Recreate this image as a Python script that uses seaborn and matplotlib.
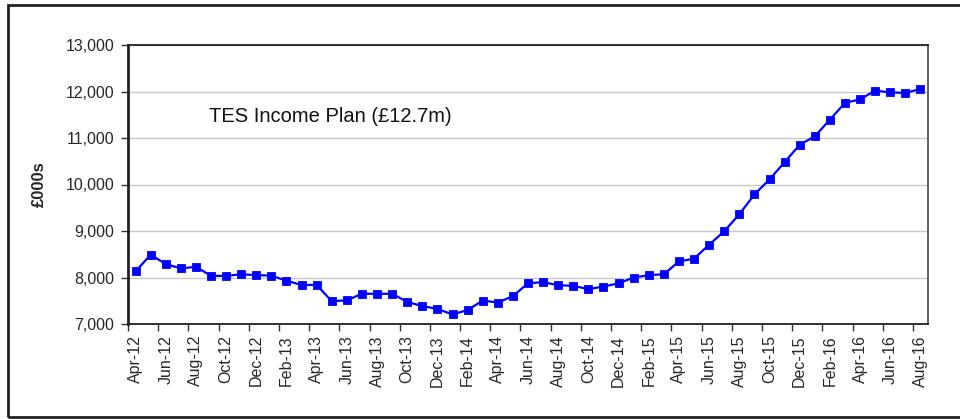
import matplotlib
matplotlib.use("Agg")
import matplotlib.pyplot as plt
from matplotlib.patches import Rectangle
from matplotlib.ticker import FixedLocator, FuncFormatter
import seaborn as sns
import pandas as pd

# Monthly income, Apr-12 .. Aug-16 (£000s)
months = pd.date_range("2012-04-01", "2016-08-01", freq="MS")
income_2012 = [8130, 8490, 8290, 8195, 8230, 8035, 8035, 8070, 8050]
income_2013 = [8040, 7930, 7840, 7840, 7490, 7510, 7650, 7650, 7650, 7475, 7385, 7325]
income_2014 = [7205, 7300, 7505, 7460, 7600, 7875, 7900, 7835, 7820, 7750, 7805, 7875]
income_2015 = [8000, 8050, 8070, 8345, 8405, 8705, 8995, 9360, 9785, 10110, 10480, 10855]
income_2016 = [11035, 11395, 11755, 11830, 12020, 11980, 11970, 12055]
income = income_2012 + income_2013 + income_2014 + income_2015 + income_2016

month_labels = [m.strftime("%b-%y") for m in months]
df = pd.DataFrame({"pos": range(len(months)), "income": income, "month": month_labels})

sns.set_theme(style="white")
plt.rcParams["font.family"] = ["Liberation Sans", "DejaVu Sans"]

fig = plt.figure(figsize=(9.6, 4.19), dpi=100)
ax = fig.add_axes([128 / 960, 95 / 419, 800 / 960, 279 / 419])

sns.lineplot(data=df, x="pos", y="income", ax=ax, color="#0000ff", linewidth=1.6,
             marker="s", markersize=6.2, markeredgecolor="#0000ff", markeredgewidth=0.6)

ax.set_xlim(-0.5, len(months) - 0.5)
ax.set_ylim(7000, 13000)
ax.set_yticks(range(7000, 13001, 1000))
ax.yaxis.set_major_formatter(FuncFormatter(lambda v, p: f"{int(v):,}"))
ax.grid(axis="y", color="#c8c8c8", linewidth=1)
ax.set_axisbelow(True)

# Category-style axis: ticks on boundaries, labels centred on every other month
ax.xaxis.set_major_locator(FixedLocator([i - 0.5 for i in range(0, len(months) + 1, 2)]))
ax.xaxis.set_major_formatter(FuncFormatter(lambda v, p: ""))
ax.xaxis.set_minor_locator(FixedLocator(list(range(0, len(months), 2))))
ax.set_xticklabels(month_labels[::2], minor=True, rotation=90, fontsize=11.5)
ax.tick_params(axis="x", which="major", direction="out", length=5, width=1, color="#333333", bottom=True)
ax.tick_params(axis="x", which="minor", length=0, pad=8, bottom=True)
ax.tick_params(axis="y", direction="out", length=5, width=1, color="#333333", labelsize=11.5, pad=5, left=True)

ax.set_xlabel("")
ax.set_ylabel("£000s", fontsize=12, fontweight="bold")
ax.yaxis.set_label_coords((47 - 128) / 800, 0.5)

for side, sp in ax.spines.items():
    sp.set_visible(True)
    sp.set_color("#222222")
    sp.set_linewidth(1.3)
ax.spines["left"].set_linewidth(2)
ax.spines["right"].set_color("#555555")

ax.text(0.101, 0.745, "TES Income Plan (£12.7m)", transform=ax.transAxes,
        fontsize=14.5, ha="left", va="center", color="#111111")

# Outer frame around the chart
fig.patches.append(Rectangle((7.5 / 960, 2 / 419), 1.0, 412 / 419, transform=fig.transFigure,
                             fill=False, edgecolor="#222222", linewidth=2, clip_on=False))

fig.savefig("out.png", dpi=100)
